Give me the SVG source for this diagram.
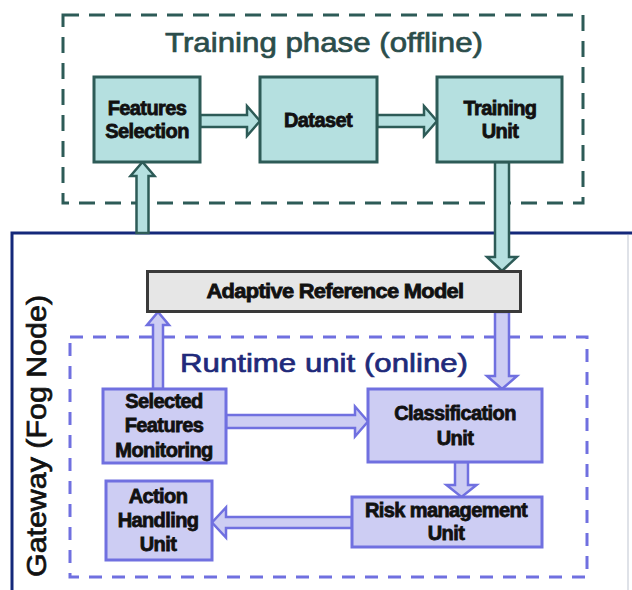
<svg xmlns="http://www.w3.org/2000/svg" width="632" height="590" viewBox="0 0 632 590">
<style>
.tbox{fill:#b5e0e0;stroke:#2d5b57;stroke-width:3}
.pbox{fill:#cdcdf3;stroke:#7070e0;stroke-width:3}
.gbox{fill:#e6e6e6;stroke:#3a3a3a;stroke-width:3}
.tarr{fill:#b5e0e0;stroke:#2d5b57;stroke-width:2.5;stroke-linejoin:miter}
.parr{fill:#cdcdf3;stroke:#7070e0;stroke-width:2.5;stroke-linejoin:miter}
.lbl{font-family:"Liberation Sans",Arial,sans-serif;font-weight:bold;font-size:20px;fill:#111;stroke:#111;stroke-width:0.8;text-anchor:middle;letter-spacing:-0.6px}
.title{font-family:"Liberation Sans",Arial,sans-serif;text-anchor:middle;stroke-width:0.7}
</style>
<rect width="632" height="590" fill="#ffffff"/>

<g id="training-phase">
  <rect x="63" y="15" width="520" height="188" fill="none" stroke="#2d5b57" stroke-width="3" stroke-dasharray="16 10"/>
  <text class="title" x="324" y="52" font-size="28" fill="#2b4d4b" stroke="#2b4d4b" textLength="318" lengthAdjust="spacingAndGlyphs">Training phase (offline)</text>
</g>

<g id="gateway">
  <path d="M632,233 H12 V590" fill="none" stroke="#14287a" stroke-width="3"/>
  <line x1="628" y1="235" x2="628" y2="590" stroke="#d4d8e0" stroke-width="1.5"/>
  <text class="title" transform="translate(46,436) rotate(-90)" x="0" y="0" font-size="28" fill="#111" stroke="#111" textLength="282" lengthAdjust="spacingAndGlyphs">Gateway (Fog Node)</text>
</g>

<g id="runtime-unit">
  <rect x="70" y="337" width="517" height="240" fill="none" stroke="#7070e0" stroke-width="3" stroke-dasharray="13 10"/>
  <text class="title" x="324" y="372" font-size="26" fill="#1f2a7a" stroke="#1f2a7a" textLength="288" lengthAdjust="spacingAndGlyphs">Runtime unit (online)</text>
</g>

<g id="connectors">
  <polygon class="tarr" points="200,115 247,115 247,106 260,121 247,136 247,127 200,127"/>
  <polygon class="tarr" points="377,115 424,115 424,106 437,121 424,136 424,127 377,127"/>
  <polygon class="tarr" points="136.5,233 136.5,176 130.5,176 142.5,162 154.5,176 148.5,176 148.5,233"/>
  <polygon class="tarr" points="495,162 495,257 487,257 502,271 517,257 509,257 509,162"/>
  <polygon class="parr" points="495,312 495,376 487,376 502,389 517,376 509,376 509,312"/>
  <polygon class="parr" points="153,389 153,325 147,325 158,312 169,325 163,325 163,389"/>
  <polygon class="parr" points="226,415 355,415 355,406.5 368,421.5 355,436.5 355,428 226,428"/>
  <polygon class="parr" points="455,462 455,485 446.5,485 461.5,497 476.5,485 468,485 468,462"/>
  <polygon class="parr" points="352,517 226,517 226,507.5 212,522.5 226,537.5 226,528 352,528"/>
</g>

<g id="features-selection">
  <rect class="tbox" x="94" y="77" width="106" height="85"/>
  <text class="lbl" x="147" y="115">Features</text>
  <text class="lbl" x="147" y="138">Selection</text>
</g>
<g id="dataset">
  <rect class="tbox" x="260" y="77" width="117" height="85"/>
  <text class="lbl" x="318" y="127">Dataset</text>
</g>
<g id="training-unit">
  <rect class="tbox" x="437" y="77" width="125" height="85"/>
  <text class="lbl" x="500" y="115">Training</text>
  <text class="lbl" x="500" y="138">Unit</text>
</g>
<g id="adaptive-reference-model">
  <rect class="gbox" x="147.5" y="271.5" width="373" height="40"/>
  <text class="lbl" x="335" y="298" textLength="257" lengthAdjust="spacingAndGlyphs">Adaptive Reference Model</text>
</g>
<g id="selected-features-monitoring">
  <rect class="pbox" x="103" y="389" width="123" height="74"/>
  <text class="lbl" x="164" y="408">Selected</text>
  <text class="lbl" x="164" y="432">Features</text>
  <text class="lbl" x="164" y="457">Monitoring</text>
</g>
<g id="classification-unit">
  <rect class="pbox" x="368" y="389" width="174" height="73"/>
  <text class="lbl" x="455" y="420">Classification</text>
  <text class="lbl" x="455" y="445">Unit</text>
</g>
<g id="risk-management-unit">
  <rect class="pbox" x="352" y="497" width="190" height="50"/>
  <text class="lbl" x="446" y="517">Risk management</text>
  <text class="lbl" x="446" y="540">Unit</text>
</g>
<g id="action-handling-unit">
  <rect class="pbox" x="106" y="481" width="106" height="79"/>
  <text class="lbl" x="158" y="503">Action</text>
  <text class="lbl" x="158" y="527">Handling</text>
  <text class="lbl" x="158" y="551">Unit</text>
</g>
</svg>
